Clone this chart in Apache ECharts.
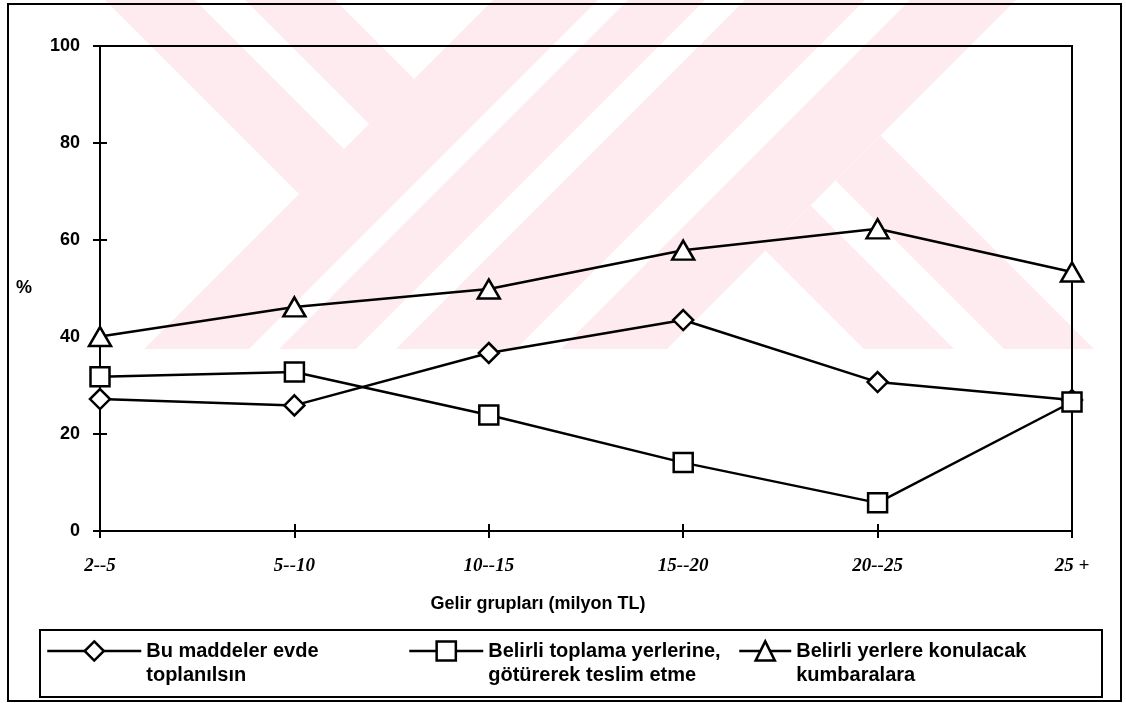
<!DOCTYPE html>
<html>
<head>
<meta charset="utf-8">
<script src="https://cdn.jsdelivr.net/npm/echarts@6/dist/echarts.min.js"></script>
<style>
  html, body { margin: 0; padding: 0; background: #ffffff; }
  #chart { width: 1126px; height: 703px; }
</style>
</head>
<body>
<div id="chart"></div>
<script>
// Gelir grupları (milyon TL)
const categories = ['2--5', '5--10', '10--15', '15--20', '20--25', '25 +'];

// Yüzde değerleri
const evdeToplanma   = [27.2, 25.9, 36.7, 43.5, 30.7, 27.0];
const toplamaYerleri = [31.8, 32.8, 23.9, 14.1, 5.8, 26.6];
const kumbaralar     = [40.1, 46.2, 49.9, 57.9, 62.3, 53.4];

const seriesNames = [
  'Bu maddeler evde\ntoplanılsın',
  'Belirli toplama yerlerine,\ngötürerek teslim etme',
  'Belirli yerlere konulacak\nkumbaralara'
];

const yMin = 0, yMax = 100, yStep = 20;

const SANS = 'Liberation Sans, Arial, sans-serif';
const SERIF = 'Liberation Serif, Times New Roman, serif';
const INK = '#000000';

// Pale background emblem built from diagonal bands (u = x + y, v = x - y),
// clipped to the upper part of the page.
function clipHalf(poly, c) {
  const [a, b, k] = c;
  const out = [];
  for (let i = 0; i < poly.length; i++) {
    const p = poly[i], q = poly[(i + 1) % poly.length];
    const fp = a * p[0] + b * p[1] - k, fq = a * q[0] + b * q[1] - k;
    if (fp <= 0) out.push(p);
    if ((fp < 0 && fq > 0) || (fp > 0 && fq < 0)) {
      const t = fp / (fp - fq);
      out.push([p[0] + t * (q[0] - p[0]), p[1] + t * (q[1] - p[1])]);
    }
  }
  return out;
}
const uMax = U => [1, 1, U], uMin = U => [-1, -1, -U];
const vMax = V => [1, -1, V], vMin = V => [-1, 1, -V];
const emblemBands = [
  [vMin(105), vMax(195), uMax(493)],
  [vMin(245), vMax(335), uMax(493)],
  [uMin(493), uMax(598)],
  [uMin(628), uMax(705)],
  [uMin(745), uMax(865)],
  [uMin(910), uMax(1016)],
  [vMin(515), vMax(605), uMin(1016)],
  [vMin(655), vMax(745), uMin(1016)]
];
const emblemShapes = emblemBands.map(cons => {
  let poly = [[-50, 0], [1200, 0], [1200, 349], [-50, 349]];
  cons.forEach(c => { poly = clipHalf(poly, c); });
  return {
    type: 'polygon', silent: true, z: -10,
    shape: { points: poly },
    style: { fill: '#fdebef', stroke: null }
  };
});

const chart = echarts.init(document.getElementById('chart'), null, { renderer: 'canvas' });

const baseSeries = (name, data, symbol, size) => ({
  name, type: 'line', data, symbol, symbolSize: size,
  xAxisIndex: 0, yAxisIndex: 0,
  showAllSymbol: true,
  lineStyle: { color: INK, width: 2.5 },
  itemStyle: { color: '#ffffff', borderColor: INK, borderWidth: 2.5 },
  emphasis: { disabled: true },
  z: 3
});

// Legend text: a blank first line keeps the symbol level with the first text line.
const legendText = {
  fontFamily: SANS, fontWeight: 'bold', fontSize: 20, color: INK, lineHeight: 24
};
const legendBase = (name, left, width) => ({
  data: [name], left, top: 615, padding: 0,
  itemWidth: width, itemHeight: 24,
  formatter: n => ' \n' + n,
  lineStyle: { color: INK, width: 2.5 },
  itemStyle: { color: '#ffffff', borderColor: INK, borderWidth: 2.5 },
  textStyle: legendText, selectedMode: false
});

chart.setOption({
  animation: false,
  backgroundColor: '#ffffff',
  grid: {
    left: 100, right: 54, top: 46, bottom: 172,
    show: true, borderColor: INK, borderWidth: 2, backgroundColor: 'transparent'
  },
  xAxis: [
    {
      type: 'category', data: categories, boundaryGap: false, position: 'bottom',
      axisLine: { lineStyle: { color: INK, width: 2 } },
      axisTick: { show: true, length: 7, lineStyle: { color: INK, width: 2 } },
      axisLabel: {
        color: INK, fontFamily: SERIF, fontStyle: 'italic', fontWeight: 'bold',
        fontSize: 19, margin: 26
      },
      splitLine: { show: false },
      name: 'Gelir grupları (milyon TL)', nameLocation: 'middle', nameGap: 64,
      nameTextStyle: {
        color: INK, fontFamily: SANS, fontWeight: 'bold', fontSize: 18,
        padding: [0, 96, 0, 0]
      }
    },
    {
      type: 'category', data: categories, boundaryGap: false, position: 'bottom',
      axisLine: { show: false },
      axisTick: { show: true, inside: true, length: 7, lineStyle: { color: INK, width: 2 } },
      axisLabel: { show: false }, splitLine: { show: false }
    }
  ],
  yAxis: [
    {
      type: 'value', min: yMin, max: yMax, interval: yStep, position: 'left',
      axisLine: { show: true, lineStyle: { color: INK, width: 2 } },
      axisTick: { show: true, length: 7, lineStyle: { color: INK, width: 2 } },
      axisLabel: {
        color: INK, fontFamily: SANS, fontWeight: 'bold', fontSize: 18, margin: 20
      },
      splitLine: { show: false },
      name: '%', nameLocation: 'middle', nameRotate: 0, nameGap: 68,
      nameTextStyle: { color: INK, fontFamily: SANS, fontWeight: 'bold', fontSize: 18 }
    },
    {
      type: 'value', min: yMin, max: yMax, interval: yStep, position: 'left',
      axisLine: { show: false },
      axisTick: { show: true, inside: true, length: 7, lineStyle: { color: INK, width: 2 } },
      axisLabel: { show: false }, splitLine: { show: false }
    }
  ],
  legend: [
    legendBase(seriesNames[0], 46, 94),
    legendBase(seriesNames[1], 408, 74),
    legendBase(seriesNames[2], 738, 52)
  ],
  graphic: [
    ...emblemShapes,
    {
      type: 'rect', silent: true, z: 5,
      shape: { x: 8, y: 4, width: 1113, height: 697 },
      style: { fill: null, stroke: INK, lineWidth: 2 }
    },
    {
      type: 'rect', silent: true, z: 5,
      shape: { x: 40, y: 630, width: 1062, height: 67 },
      style: { fill: null, stroke: INK, lineWidth: 2 }
    }
  ],
  series: [
    baseSeries(seriesNames[0], evdeToplanma, 'diamond', [20, 20]),
    baseSeries(seriesNames[1], toplamaYerleri, 'rect', 19),
    baseSeries(seriesNames[2], kumbaralar, 'triangle', [22, 19])
  ]
});
</script>
</body>
</html>
